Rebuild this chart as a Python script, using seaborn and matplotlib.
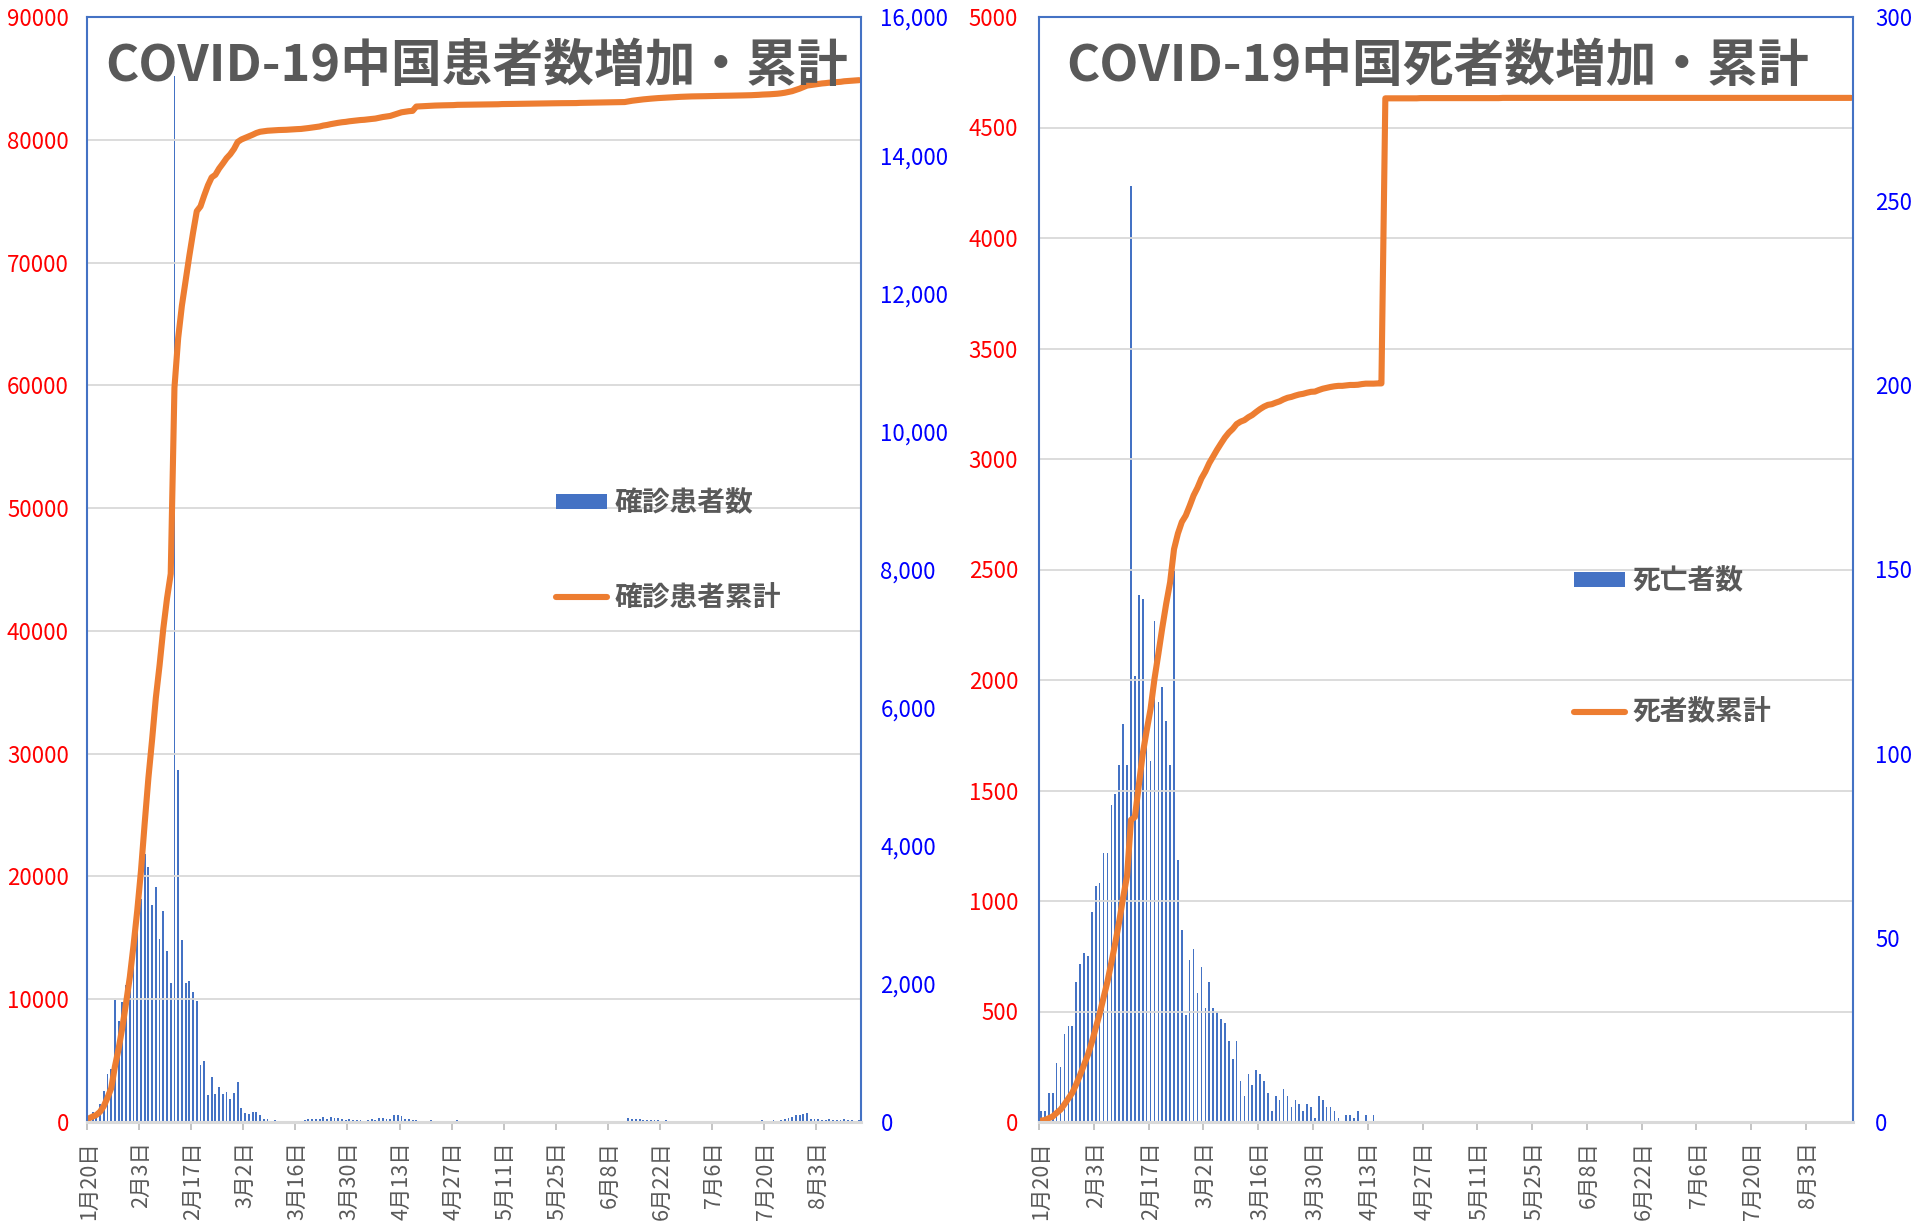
import matplotlib.pyplot as plt
import matplotlib.ticker as mticker
import numpy as np
import pandas as pd
import seaborn as sns

# daily series, 2020-01-20 .. 2020-08-14
dates = pd.date_range('2020-01-20', '2020-08-14', freq='D')
date_labels = [f'{d.month}月{d.day}日' for d in dates]

new_cases = [
    # Jan 20-31
    77, 149, 131, 259, 444, 688, 769, 1771, 1459, 1737, 1982, 2102,
    # Feb
    2590, 2829, 3235, 3887, 3694, 3143, 3399, 2656, 3062, 2478, 2015, 15152, 5090, 2641, 2009,
    2048, 1886, 1749, 820, 889, 397, 648, 409, 508, 406, 433, 327, 427, 573,
    # Mar
    202, 125, 119, 139, 143, 99, 44, 40, 19, 24, 15, 8, 11, 20, 16, 21,
    13, 34, 39, 41, 46, 39, 78, 47, 67, 55, 54, 45, 31, 48, 36,
    # Apr
    35, 31, 19, 30, 39, 32, 62, 63, 42, 46, 99, 108, 89, 46, 46,
    26, 27, 16, 12, 11, 30, 10, 6, 12, 11, 3, 6, 22, 4, 12,
    # May
    1, 2, 3, 1, 2, 4, 2, 1, 14, 17, 1, 7, 3, 4, 5, 8,
    5, 6, 3, 5, 2, 0, 3, 11, 7, 1, 2, 2, 4, 2, 16,
    # Jun
    5, 1, 6, 5, 5, 6, 4, 3, 3, 11, 7, 11, 57, 49, 40,
    44, 28, 32, 25, 26, 22, 18, 22, 13, 11, 21, 17, 12, 19, 3,
    # Jul
    3, 5, 5, 8, 8, 7, 6, 7, 2, 7, 8, 7, 8, 3, 4, 11,
    13, 16, 22, 11, 14, 22, 21, 34, 46, 61, 68, 101, 105, 123, 127,
    # Aug 1-14
    45, 49, 43, 36, 27, 37, 23, 23, 23, 44, 25, 23, 20, 22,
]

total_cases = [
    291, 440, 571, 830, 1287, 1975, 2744, 4515, 5974, 7711, 9692, 11791,
    14380, 17205, 20438, 24324, 28018, 31161, 34546, 37198, 40171, 42638, 44653, 59804, 63851, 66492, 68500,
    70548, 72436, 74185, 74576, 75465, 76288, 76936, 77150, 77658, 78064, 78497, 78824, 79251, 79824,
    80026, 80151, 80270, 80409, 80552, 80651, 80695, 80735, 80754, 80778, 80793, 80801, 80812, 80832, 80848, 80869,
    80882, 80916, 80955, 80996, 81042, 81081, 81159, 81206, 81273, 81328, 81382, 81427, 81458, 81506, 81542,
    81577, 81608, 81627, 81657, 81696, 81728, 81790, 81853, 81895, 81941, 82040, 82148, 82237, 82283, 82329,
    82355, 82707, 82723, 82735, 82746, 82776, 82786, 82792, 82804, 82815, 82818, 82824, 82846, 82850, 82862,
    82863, 82865, 82868, 82869, 82871, 82875, 82877, 82878, 82892, 82909, 82910, 82917, 82920, 82924, 82929, 82937,
    82942, 82948, 82951, 82956, 82958, 82958, 82961, 82972, 82979, 82980, 82982, 82984, 82988, 82990, 83006,
    83011, 83012, 83018, 83023, 83028, 83034, 83038, 83041, 83044, 83055, 83062, 83073, 83130, 83179, 83219,
    83263, 83291, 83323, 83348, 83374, 83396, 83414, 83436, 83449, 83460, 83481, 83498, 83510, 83529, 83532,
    83535, 83540, 83545, 83553, 83561, 83568, 83574, 83581, 83583, 83590, 83598, 83605, 83613, 83616, 83620, 83631,
    83644, 83660, 83682, 83693, 83707, 83729, 83750, 83784, 83830, 83891, 83959, 84060, 84165, 84288, 84415,
    84460, 84509, 84552, 84588, 84615, 84652, 84675, 84698, 84721, 84765, 84790, 84813, 84833, 84855,
]

new_deaths = [
    3, 3, 8, 8, 16, 15, 24, 26, 26, 38, 43, 46,
    45, 57, 64, 65, 73, 73, 86, 89, 97, 108, 97, 254, 121, 143, 142,
    105, 98, 136, 114, 118, 109, 97, 150, 71, 52, 29, 44, 47, 35,
    42, 31, 38, 31, 30, 28, 27, 22, 17, 22, 11, 7, 13, 10, 14, 13,
    11, 8, 3, 7, 6, 9, 7, 4, 6, 5, 3, 5, 4, 1, 7,
    6, 4, 4, 3, 1, 0, 2, 2, 1, 3, 0, 2, 0, 2, 0,
    0, 0, 0, 0, 0, 0, 0, 0, 0, 0, 0, 0, 0, 0, 0,
    0, 0, 0, 0, 0, 0, 0, 0, 0, 0, 0, 0, 0, 0, 0, 0,
    0, 0, 0, 0, 0, 0, 0, 0, 0, 0, 0, 0, 0, 0, 0,
    0, 0, 0, 0, 0, 0, 0, 0, 0, 0, 0, 0, 0, 0, 0,
    0, 0, 0, 0, 0, 0, 0, 0, 0, 0, 0, 0, 0, 0, 0,
    0, 0, 0, 0, 0, 0, 0, 0, 0, 0, 0, 0, 0, 0, 0, 0,
    0, 0, 0, 0, 0, 0, 0, 0, 0, 0, 0, 0, 0, 0, 0,
    0, 0, 0, 0, 0, 0, 0, 0, 0, 0, 0, 0, 0, 0,
]

total_deaths = [
    6, 9, 17, 25, 41, 56, 80, 106, 132, 170, 213, 259,
    304, 361, 425, 490, 563, 636, 722, 811, 908, 1016, 1113, 1367, 1380, 1523, 1665,
    1770, 1868, 2004, 2118, 2236, 2345, 2442, 2592, 2663, 2715, 2744, 2788, 2835, 2870,
    2912, 2943, 2981, 3012, 3042, 3070, 3097, 3119, 3136, 3158, 3169, 3176, 3189, 3199, 3213, 3226,
    3237, 3245, 3248, 3255, 3261, 3270, 3277, 3281, 3287, 3292, 3295, 3300, 3304, 3305, 3312,
    3318, 3322, 3326, 3329, 3331, 3331, 3333, 3335, 3335, 3336, 3339, 3341, 3341, 3341, 3342,
    3342, 4632, 4632, 4632, 4632, 4632, 4632, 4632, 4632, 4632, 4633, 4633, 4633, 4633, 4633,
    4633, 4633, 4633, 4633, 4633, 4633, 4633, 4633, 4633, 4633, 4633, 4633, 4633, 4633, 4633, 4633,
    4634, 4634, 4634, 4634, 4634, 4634, 4634, 4634, 4634, 4634, 4634, 4634, 4634, 4634, 4634,
    4634, 4634, 4634, 4634, 4634, 4634, 4634, 4634, 4634, 4634, 4634, 4634, 4634, 4634, 4634,
    4634, 4634, 4634, 4634, 4634, 4634, 4634, 4634, 4634, 4634, 4634, 4634, 4634, 4634, 4634,
    4634, 4634, 4634, 4634, 4634, 4634, 4634, 4634, 4634, 4634, 4634, 4634, 4634, 4634, 4634, 4634,
    4634, 4634, 4634, 4634, 4634, 4634, 4634, 4634, 4634, 4634, 4634, 4634, 4634, 4634, 4634,
    4634, 4634, 4634, 4634, 4634, 4634, 4634, 4634, 4634, 4634, 4634, 4634, 4634, 4634,
]

df = pd.DataFrame({
    'day': np.arange(len(dates)),
    'label': date_labels,
    'new_cases': new_cases,
    'total_cases': total_cases,
    'new_deaths': new_deaths,
    'total_deaths': total_deaths,
})
N = len(df)

BLUE = '#4472C4'
ORANGE = '#ED7D31'
GRAY = '#595959'
GRID = '#D9D9D9'

sns.set_theme(style='white')
plt.rcParams['font.family'] = ['Noto Sans CJK JP', 'DejaVu Sans']

fig = plt.figure(figsize=(19.15, 12.29), dpi=100)


def panel(rect, total_col, new_col, total_max, total_step, new_max, new_step, new_fmt,
          title, title_x, names, leg_anchor, leg_space, bar_w, pads):
    ax = fig.add_axes(rect)
    ax2 = ax.twinx()
    sns.barplot(data=df, x='day', y=new_col, ax=ax2, native_scale=True, orient='x',
                color=BLUE, saturation=1, width=bar_w, errorbar=None, linewidth=0)
    sns.lineplot(data=df, x='day', y=total_col, ax=ax, color=ORANGE, linewidth=4.4,
                 solid_capstyle='round')
    ax.set_zorder(ax2.get_zorder() + 1)
    ax.patch.set_visible(False)

    ax.set_xlim(-0.45, N - 0.5)
    ax.set_ylim(0, total_max)
    ax.set_yticks(np.arange(0, total_max + 1, total_step))
    ax.yaxis.set_major_formatter(mticker.StrMethodFormatter('{x:.0f}'))
    ax2.set_ylim(0, new_max)
    ax2.set_yticks(np.arange(0, new_max + 1, new_step))
    ax2.yaxis.set_major_formatter(mticker.StrMethodFormatter(new_fmt))

    ax.set_xticks(df['day'][::14], df['label'][::14])
    ax.set_xticks(np.arange(-0.5, N, 14), minor=True)
    ax.tick_params(axis='x', which='major', length=0, pad=14, labelsize=15.5,
                   labelcolor=GRAY, rotation=90)
    ax.tick_params(axis='x', which='minor', length=6, width=1.3, color='#BFBFBF', bottom=True)
    ax.tick_params(axis='y', length=0, pad=pads[0], labelsize=16, labelcolor='#FF0000')
    ax2.tick_params(axis='y', length=0, pad=pads[1], labelsize=16, labelcolor='#0000FF')

    ax.grid(axis='y', color=GRID, linewidth=1.3)
    ax.grid(axis='x', visible=False)
    ax2.grid(False)
    for s in ['left', 'top', 'right']:
        ax.spines[s].set_visible(True)
        ax.spines[s].set_color(BLUE)
        ax.spines[s].set_linewidth(1.5)
    ax.spines['bottom'].set_color(GRID)
    ax.spines['bottom'].set_linewidth(2.2)
    for s in ax2.spines.values():
        s.set_visible(False)
    ax.set_xlabel('')
    ax.set_ylabel('')
    ax2.set_ylabel('')

    ax.text(title_x, 0.955, title, transform=ax.transAxes, fontsize=36.5, fontweight='bold',
            color=GRAY, ha='left', va='center', zorder=5)

    leg = ax.get_legend()
    if leg is not None:
        leg.remove()
    ax.legend([ax2.containers[0], ax.lines[0]], names, loc='center left',
              bbox_to_anchor=leg_anchor, frameon=False,
              prop={'size': 20, 'weight': 'bold'}, labelcolor=GRAY,
              handlelength=1.85, handleheight=0.45, handletextpad=0.25,
              labelspacing=leg_space, borderpad=0, borderaxespad=0)
    return ax, ax2


panel([87 / 1915, 107 / 1229, 774 / 1915, 1105 / 1229], 'total_cases', 'new_cases',
      90000, 10000, 16000, 2000, '{x:,.0f}',
      'COVID-19中国患者数増加・累計', 0.024, ['確診患者数', '確診患者累計'],
      (0.606, 0.517), 2.4, 0.5, (13, 14))

panel([1039 / 1915, 107 / 1229, 814 / 1915, 1105 / 1229], 'total_deaths', 'new_deaths',
      5000, 500, 300, 50, '{x:.0f}',
      'COVID-19中国死者数増加・累計', 0.034, ['死亡者数', '死者数累計'],
      (0.657, 0.43), 3.7, 0.42, (15, 16))

fig.savefig('out.png', dpi=100, facecolor='white')
